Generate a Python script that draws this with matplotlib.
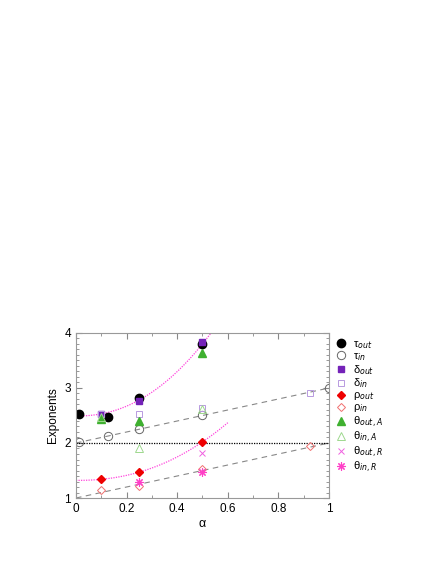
import numpy as np
import matplotlib
matplotlib.use('Agg')
from matplotlib import pyplot as plt
from matplotlib.ticker import MultipleLocator

plt.rcParams['font.family'] = ['Liberation Sans', 'DejaVu Sans']
plt.rcParams['mathtext.fontset'] = 'dejavusans'

# measured exponents vs alpha
tau_out_x = [0.01, 0.125, 0.25, 0.5]
tau_out_y = [2.52, 2.48, 2.82, 3.80]
tau_in_x = [0.01, 0.125, 0.25, 0.5, 1.0]
tau_in_y = [2.02, 2.12, 2.25, 2.50, 3.00]
delta_out_x = [0.1, 0.25, 0.5]
delta_out_y = [2.53, 2.76, 3.83]
delta_in_x = [0.1, 0.25, 0.5, 0.925]
delta_in_y = [2.53, 2.52, 2.64, 2.91]
rho_out_x = [0.1, 0.25, 0.5]
rho_out_y = [1.35, 1.47, 2.02]
rho_in_x = [0.1, 0.25, 0.5, 0.925]
rho_in_y = [1.15, 1.21, 1.53, 1.95]
theta_outA_x = [0.1, 0.25, 0.5]
theta_outA_y = [2.43, 2.40, 3.64]
theta_inA_x = [0.1, 0.25, 0.5]
theta_inA_y = [2.48, 1.91, 2.62]
theta_outR_x = [0.5]
theta_outR_y = [1.82]
theta_inR_x = [0.25, 0.5]
theta_inR_y = [1.29, 1.47]

# fit curves  a + b*x^c  (up to x max)
fit_hi = (2.49, 5.9, 2.17, 0.6)
fit_lo = (1.32, 3.26, 2.22, 0.6)

fig = plt.figure(figsize=(4.47, 5.78), dpi=100)
ax = fig.add_axes([0.170, 0.1384, 0.566, 0.2855])

# guide lines
ax.plot([0, 1], [2, 3], ls=(0, (5, 4)), c='#888888', lw=0.8)
ax.plot([0, 1], [1, 2], ls=(0, (5, 4)), c='#888888', lw=0.8)
ax.plot([0, 1], [2, 2], ls=(0, (1, 1)), c='black', lw=0.9)
for a, b, c, xm in (fit_hi, fit_lo):
    xx = np.linspace(0, xm, 200)
    ax.plot(xx, a + b * xx ** c, ls=(0, (1, 1)), c='#ff44dd', lw=0.9)

h = []
h += ax.plot(tau_out_x, tau_out_y, 'o', c='black', ms=6, label='τ$_{out}$')
h += ax.plot(tau_in_x, tau_in_y, 'o', mfc='none', mec='#666666', ms=6, mew=0.7, label='τ$_{in}$')
h += ax.plot(delta_out_x, delta_out_y, 's', c='#7422b8', ms=5, label='δ$_{out}$')
h += ax.plot(delta_in_x, delta_in_y, 's', mfc='none', mec='#b89ae0', ms=5, mew=0.7, label='δ$_{in}$')
h += ax.plot(rho_out_x, rho_out_y, 'D', c='#ee0000', ms=4.5, label='ρ$_{out}$')
h += ax.plot(rho_in_x, rho_in_y, 'D', mfc='none', mec='#f07070', ms=4.5, mew=0.7, label='ρ$_{in}$')
h += ax.plot(theta_outA_x, theta_outA_y, '^', c='#3fb030', ms=6, label='θ$_{out,A}$')
h += ax.plot(theta_inA_x, theta_inA_y, '^', mfc='none', mec='#9ed88e', ms=6, mew=0.7, label='θ$_{in,A}$')
h += ax.plot(theta_outR_x, theta_outR_y, 'x', c='#f060e0', ms=4.5, mew=0.7, label='θ$_{out,R}$')
h += ax.plot(theta_inR_x, theta_inR_y, marker=(8, 2, 0), ls='none', c='#ff40c8', ms=6, mew=0.8,
             label='θ$_{in,R}$')

ax.set_xlim(0, 1)
ax.set_ylim(1, 4)
ax.set_xticks([0, 0.2, 0.4, 0.6, 0.8, 1.0])
ax.set_xticklabels(['0', '0.2', '0.4', '0.6', '0.8', '1'])
ax.xaxis.set_minor_locator(MultipleLocator(0.1))
ax.yaxis.set_major_locator(MultipleLocator(1))
ax.yaxis.set_minor_locator(MultipleLocator(0.1))
ax.tick_params(which='both', direction='in', top=True, right=True, labelsize=8.5, color='#888888')
ax.tick_params(which='major', length=4)
ax.tick_params(which='minor', length=2.5)
for s in ax.spines.values():
    s.set_color('#999999')
    s.set_linewidth(0.8)

ax.set_xlabel('α', fontsize=9, labelpad=2)
ax.set_ylabel('Exponents', fontsize=8.5, labelpad=4)

fig.legend(handles=h, loc='upper left', bbox_to_anchor=(0.752, 0.413), frameon=False,
           fontsize=8, handlelength=0.8, handletextpad=0.7, labelspacing=0.0,
           borderaxespad=0, borderpad=0)

fig.savefig('out.png', dpi=100)
